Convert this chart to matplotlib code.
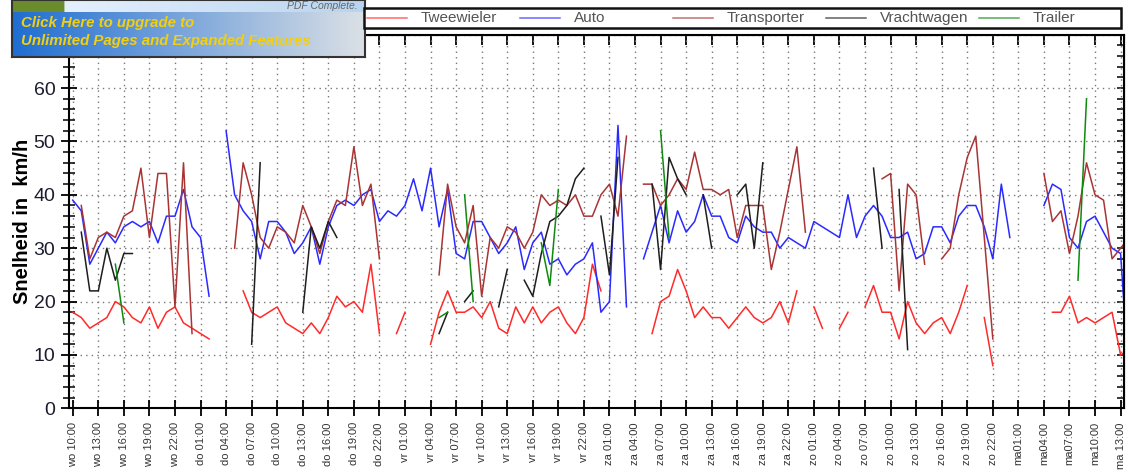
import numpy as np
import matplotlib
matplotlib.use("Agg")
import matplotlib.pyplot as plt
from matplotlib.lines import Line2D
from matplotlib.patches import Rectangle

plt.rcParams['font.family'] = ['Liberation Sans', 'DejaVu Sans']

nan = np.nan

# hourly values, uur 0 = wo 10:00 ... uur 123 = ma 13:00
uren = np.arange(125)

tweewieler = [18, 17, 15, 16, 17, 20, 19, 17, 16, 19, 15, 18, 19, 16, 15, 14, 13, nan, nan, nan,
              22, 18, 17, 18, 19, 16, 15, 14, 16, 14, 17, 21, 19, 20, 18, 27, 14, nan, 14, 18,
              nan, nan, 12, 18, 22, 18, 18, 19, 17, 20, 15, 14, 19, 16, 19, 16, 18, 19, 16, 14,
              17, 27, 22, nan, nan, nan, nan, nan, 14, 20, 21, 26, 22, 17, 19, 17, 17, 15, 17, 19,
              17, 16, 17, 20, 16, 22, nan, 19, 15, nan, 15, 18, nan, 19, 23, 18, 18, 13, 20, 16,
              14, 16, 17, 14, 18, 23, nan, 17, 8, nan, nan, nan, nan, nan, nan, 18, 18, 21, 16, 17,
              16, 17, 18, 10, 11]

auto = [39, 37, 27, 30, 33, 31, 34, 35, 34, 35, 31, 36, 36, 41, 34, 32, 21, nan, 52, 40,
        37, 35, 28, 35, 35, 33, 29, 31, 34, 27, 34, 38, 39, 38, 40, 41, 35, 37, 36, 38,
        43, 37, 45, 34, 41, 29, 28, 35, 35, 32, 29, 31, 34, 26, 31, 33, 27, 28, 25, 27,
        28, 31, 18, 20, 53, 19, nan, 28, 33, 38, 31, 37, 33, 35, 40, 36, 36, 32, 31, 36,
        34, 33, 33, 30, 32, 31, 30, 35, 34, 33, 32, 40, 32, 36, 38, 36, 32, 32, 33, 28,
        29, 34, 34, 31, 36, 38, 38, 34, 28, 42, 32, nan, nan, nan, 38, 42, 41, 32, 30, 35,
        36, 33, 30, 29, 5]

transporter = [nan, 38, 28, 32, 33, 32, 36, 37, 45, 32, 44, 44, 19, 46, 14, nan, nan, nan, nan, 30,
               46, 40, 32, 30, 34, 33, 31, 38, 34, 29, 35, 39, 38, 49, 38, 42, 28, nan, nan, nan,
               nan, nan, nan, 25, 42, 34, 31, 38, 21, 32, 30, 34, 33, 30, 33, 40, 38, 39, 38, 40,
               36, 36, 40, 42, 36, 51, nan, 42, 42, 38, 40, 43, 41, 48, 41, 41, 40, 41, 32, 38,
               38, 38, 26, 33, 41, 49, 33, nan, nan, nan, nan, nan, nan, nan, nan, 43, 44, 22, 42, 40,
               27, nan, 28, 30, 40, 47, 51, 32, 13, nan, nan, nan, nan, nan, 44, 35, 37, 29, 36, 46,
               40, 39, 28, 30, 32]

vrachtwagen = [nan, 33, 22, 22, 30, 24, 29, 29, nan, nan, nan, nan, nan, nan, nan, nan, nan, nan, nan, nan,
               nan, 12, 46, nan, nan, nan, nan, 18, 34, 30, 35, 32, nan, nan, nan, nan, nan, nan, nan, nan,
               nan, nan, nan, 14, 18, nan, 20, 22, nan, nan, 19, 26, nan, 24, 21, 29, 35, 36, 38, 43,
               45, nan, 36, 25, 47, nan, nan, nan, 42, 26, 47, 43, 40, nan, 40, 30, nan, nan, 40, 42,
               30, 46, nan, nan, nan, nan, nan, nan, nan, nan, nan, nan, nan, nan, 45, 30, nan, 41, 11, nan,
               nan, nan, nan, nan, nan, nan, nan, nan, nan, nan, nan, nan, nan, nan, nan, nan, nan, nan, nan, nan,
               nan, nan, nan, nan, nan]

trailer = [nan] * 125
for uur, v in [(5, 27), (6, 16), (43, 17), (44, 18), (46, 40), (47, 20), (55, 31), (56, 23),
               (57, 41), (69, 52), (70, 32), (118, 24), (119, 58)]:
    trailer[uur] = v

dagen = ['wo'] * 5 + ['do'] * 8 + ['vr'] * 8 + ['za'] * 8 + ['zo'] * 8 + ['ma'] * 5
tijden = ['10:00', '13:00', '16:00', '19:00', '22:00'] + \
         ['01:00', '04:00', '07:00', '10:00', '13:00', '16:00', '19:00', '22:00'] * 4 + \
         ['01:00', '04:00', '07:00', '10:00', '13:00']
tick_labels = [d + ' ' + t for d, t in zip(dagen, tijden)]
tick_labels[-5:-1] = ['ma01:00', 'ma04:00', 'ma07:00', 'ma10:00']

series = [('Tweewieler', tweewieler, '#ff2a2a'),
          ('Auto', auto, '#2a2aff'),
          ('Transporter', transporter, '#a83434'),
          ('Vrachtwagen', vrachtwagen, '#1e1e1e'),
          ('Trailer', trailer, '#0e8a0e')]

W, H = 1128, 472
fig = plt.figure(figsize=(W / 100, H / 100), dpi=100)
ax = fig.add_axes([68.5 / W, 1 - 408.3 / H, (1124 - 68.5) / W, (408.3 - 34.7) / H])

for name, vals, col in series:
    ax.plot(uren, vals, color=col, lw=1.1, label=name)

ax.set_xlim(-0.5, 123.4)
ax.set_ylim(0, 70)
ax.set_xticks(np.arange(0, 124, 3))
ax.set_xticklabels(tick_labels, rotation=90, fontsize=8, color='#333333')
ax.set_yticks(np.arange(0, 71, 10))
ax.set_yticklabels([str(v) for v in range(0, 61, 10)] + [''])
ax.set_yticks(np.arange(0, 71, 2), minor=True)
ax.tick_params(axis='y', which='major', labelsize=14, labelcolor='#1c1c30', direction='inout',
               length=12, width=1.3)
ax.tick_params(axis='y', which='minor', direction='inout', length=8, width=1.1)
ax.tick_params(axis='x', which='major', direction='inout', length=12, width=1.3, pad=4)
for sp in ax.spines.values():
    sp.set_linewidth(1.5)
ax.grid(True, which='major', linestyle=(0, (1, 3)), color='#777777', lw=1.0)
ax.set_ylabel('Snelheid in  km/h', fontsize=14.5, fontweight='bold', labelpad=1)

# ticks bovenaan en rechts wijzen naar binnen
top = ax.secondary_xaxis('top')
top.set_xticks(np.arange(0, 124, 3))
top.tick_params(direction='in', length=7, width=1.3, labeltop=False)
right = ax.secondary_yaxis('right')
right.set_yticks(np.arange(0, 71, 10))
right.set_yticks(np.arange(0, 71, 2), minor=True)
right.tick_params(which='both', direction='in', length=5, width=1.1, labelright=False)

# legenda bovenaan
fig.add_artist(Rectangle((364 / W, 1 - 28 / H), (1121 - 364) / W, 20 / H, transform=fig.transFigure,
                         facecolor='white', edgecolor='#111111', lw=1.8))
for i, (name, vals, col) in enumerate(series):
    x0 = 367 + i * 153
    fig.add_artist(Line2D([x0 / W, (x0 + 40) / W], [1 - 18 / H] * 2, color=col, lw=1.1, alpha=0.7,
                          transform=fig.transFigure))
    fig.text((x0 + 54) / W, 1 - 18 / H, name, fontsize=11, color='#555555', va='center')

# PDF watermerk linksboven
wm = fig.add_axes([12 / W, 1 - 57 / H, 353 / W, 57 / H])
grad = np.linspace(0, 1, 256)
c0 = np.array([0.12, 0.43, 0.82])
c1 = np.array([0.86, 0.88, 0.90])
img = np.zeros((57, 256, 3))
img[12:] = c0 + (c1 - c0) * grad[:, None]
img[:12] = np.array([0.93, 0.96, 1.0]) + (np.array([0.72, 0.83, 0.94]) - np.array([0.93, 0.96, 1.0])) * grad[:, None]
img[:12, :38] = [0.42, 0.55, 0.18]
wm.imshow(img, aspect='auto', extent=[0, 1, 0, 1], interpolation='bilinear')
wm.set_xticks([])
wm.set_yticks([])
for sp in wm.spines.values():
    sp.set_color('#333333')
    sp.set_linewidth(1.5)
wm.text(0.98, 0.90, 'PDF Complete.', transform=wm.transAxes, ha='right', va='center',
        fontsize=7.5, style='italic', color='#666666')
wm.text(0.026, 0.6, 'Click Here to upgrade to', transform=wm.transAxes, fontsize=10.8,
        fontweight='bold', style='italic', color='#f2cf10', va='center')
wm.text(0.026, 0.28, 'Unlimited Pages and Expanded Features', transform=wm.transAxes, fontsize=10.8,
        fontweight='bold', style='italic', color='#f2cf10', va='center')

fig.savefig('out.png', dpi=100)
